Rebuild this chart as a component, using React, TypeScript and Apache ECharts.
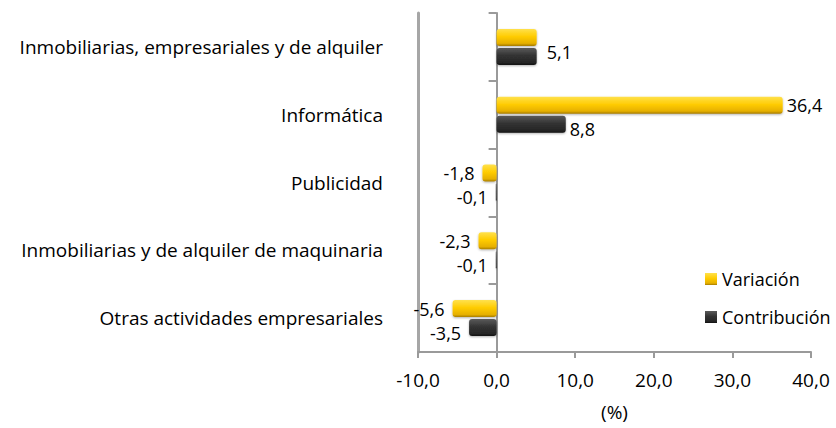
import React, { useEffect, useRef } from "react";
import * as echarts from "echarts";

const categories = [
  "Inmobiliarias, empresariales y de alquiler",
  "Informática",
  "Publicidad",
  "Inmobiliarias y de alquiler de maquinaria",
  "Otras actividades empresariales",
];
const variacion = [5.1, 36.4, -1.8, -2.3, -5.6];
const contribucion = [5.1, 8.8, -0.1, -0.1, -3.5];
const seriesNames = ["Variación", "Contribución"];
const xTicks = { min: -10, max: 40, interval: 10 };

const FONT = "Open Sans";
const FS = 19;
const fmt = (v: number) => v.toFixed(1).replace(".", ",");

const yellow = new echarts.graphic.LinearGradient(0, 0, 0, 1, [
  { offset: 0, color: "#ffe14d" },
  { offset: 0.45, color: "#ffcc00" },
  { offset: 0.85, color: "#e6b000" },
  { offset: 1, color: "#a67c00" },
]);
const dark = new echarts.graphic.LinearGradient(0, 0, 0, 1, [
  { offset: 0, color: "#5a5a5a" },
  { offset: 0.45, color: "#333333" },
  { offset: 0.85, color: "#262626" },
  { offset: 1, color: "#111111" },
]);

function mkData(vals: number[], dy: number, hideIdx: number[] = [], offsets: Record<number, number[]> = {}) {
  return vals.map((v, i) => ({
    value: v,
    label: {
      show: !hideIdx.includes(i),
      position: v >= 0 ? "right" : "left",
      offset: offsets[i] || [v >= 0 ? 0 : -4, dy],
    },
  }));
}

export default function App() {
  const ref = useRef<HTMLDivElement>(null);
  useEffect(() => {
    if (!ref.current) return;
    const chart = echarts.init(ref.current, null, { renderer: "svg" });
    const labelStyle = {
      fontFamily: FONT,
      fontSize: 18,
      color: "#000",
      distance: 4,
      formatter: (p: any) => fmt(p.value),
    };
    chart.setOption({
      animation: false,
      textStyle: { fontFamily: FONT },
      grid: { left: 418, right: 25, top: 13, bottom: 76, containLabel: false },
      legend: {
        orient: "vertical",
        left: 700,
        top: 265,
        itemWidth: 12,
        itemHeight: 12,
        itemGap: 20,
        icon: "rect",
        textStyle: { fontFamily: FONT, fontSize: 18, color: "#000" },
        data: seriesNames,
      },
      xAxis: {
        type: "value",
        min: xTicks.min,
        max: xTicks.max,
        interval: xTicks.interval,
        name: "(%)",
        nameLocation: "middle",
        nameGap: 50,
        nameTextStyle: { fontFamily: FONT, fontSize: FS, color: "#000" },
        axisLine: { show: true, onZero: false, lineStyle: { color: "#9a9a9a", width: 2 } },
        axisTick: { show: true, length: 6, lineStyle: { color: "#9a9a9a", width: 2 } },
        axisLabel: { fontFamily: FONT, fontSize: FS, color: "#000", margin: 18, formatter: (v: number) => fmt(v) },
        splitLine: { show: false },
      },
      yAxis: [
        {
          type: "category",
          inverse: true,
          data: categories,
          axisLine: {
            show: true,
            onZero: false,
            lineStyle: { color: "#a6a6a6", width: 3 },
          },
          axisTick: { show: false },
          axisLabel: { fontFamily: FONT, fontSize: FS, color: "#000", margin: 35 },
        },
        {
          type: "category",
          inverse: true,
          position: "left",
          data: categories,
          axisLine: { show: true, onZero: true, lineStyle: { color: "#9a9a9a", width: 2 } },
          axisTick: { show: true, length: 8, lineStyle: { color: "#9a9a9a", width: 2 } },
          axisLabel: { show: false },
        },
      ],
      series: [
        {
          name: seriesNames[0],
          type: "bar",
          yAxisIndex: 0,
          barWidth: 17,
          barGap: "12%",
          data: mkData(variacion, 0, [0]),
          itemStyle: { color: yellow, borderRadius: 3, shadowColor: "rgba(0,0,0,0.3)", shadowBlur: 2, shadowOffsetY: 1 },
          label: labelStyle,
        },
        {
          name: seriesNames[1],
          type: "bar",
          yAxisIndex: 0,
          barWidth: 17,
          barGap: "12%",
          data: mkData(contribucion, 5, [], { 0: [6, -4] }),
          itemStyle: { color: dark, borderRadius: 3, shadowColor: "rgba(0,0,0,0.3)", shadowBlur: 2, shadowOffsetY: 1 },
          label: labelStyle,
        },
      ],
    });
    return () => chart.dispose();
  }, []);
  return <div ref={ref} style={{ width: 836, height: 428, position: "absolute", left: 0, top: 0 }} />;
}
